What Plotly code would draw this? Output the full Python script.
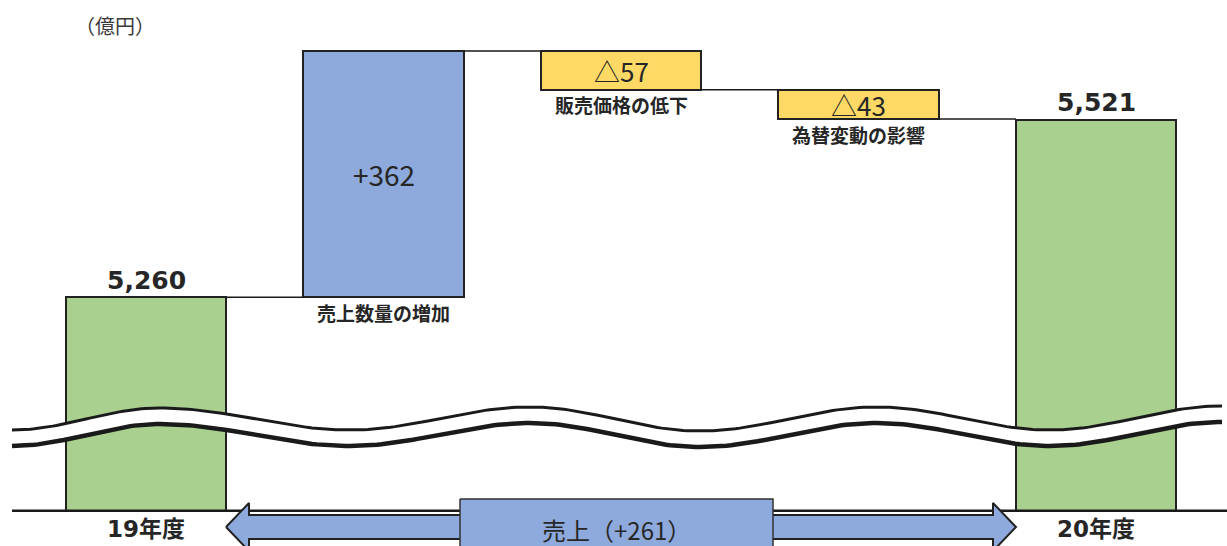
import numpy as np
import plotly.graph_objects as go

# ---------------- data ----------------
categories = ["19年度", "売上数量の増加", "販売価格の低下", "為替変動の影響", "20年度"]
measures = ["absolute", "relative", "relative", "relative", "total"]
values = [5260, 362, -57, -43, 5521]
value_labels = ["5,260", "+362", "△57", "△43", "5,521"]
unit_label = "（億円）"
change_label = "売上（+261）"

# ---------------- styling / layout constants ----------------
W, H = 1227, 546
GREEN, BLUE, YELLOW = "#A9D08E", "#8EA9DB", "#FFD966"
EDGE = "#222222"
TXT = "#262626"
X0_PX, DX_PX = 146, 237.5          # pixel centre of first bar, spacing
BAR_W = 0.675                      # in category units
K = 0.68                           # px per 億円 (broken axis)
TOP_PX = 51                        # pixel row of the highest level
BASE_PX = 510.7                    # pixel row of the baseline

# ---------------- derived bar geometry ----------------
running = 0
bar_low, bar_high, levels = [], [], []
for m, v in zip(measures, values):
    if m == "absolute":
        running = v
        bar_low.append(None); bar_high.append(v)
    elif m == "relative":
        b = running
        running += v
        bar_low.append(min(b, running)); bar_high.append(max(b, running))
    else:
        bar_low.append(None); bar_high.append(v)
    levels.append(running if m != "total" else v)

ymax_level = max(bar_high)
y_top = ymax_level + TOP_PX / K
y_bot = y_top - H / K
y_base = y_top - BASE_PX / K
bar_low = [y_base if b is None else b for b in bar_low]

xs = list(range(len(categories)))
colors = []
for m, v in zip(measures, values):
    if m in ("absolute", "total"):
        colors.append(GREEN)
    elif v >= 0:
        colors.append(BLUE)
    else:
        colors.append(YELLOW)

fig = go.Figure()
fig.add_trace(go.Bar(
    x=xs, y=[h - l for h, l in zip(bar_high, bar_low)], base=bar_low,
    width=BAR_W, marker=dict(color=colors, line=dict(color=EDGE, width=2)),
    hoverinfo="skip", showlegend=False))

# connectors
cx, cy = [], []
for i in range(len(xs) - 1):
    cx += [xs[i] + BAR_W / 2, xs[i + 1] - BAR_W / 2, None]
    cy += [levels[i], levels[i], None]
fig.add_trace(go.Scatter(x=cx, y=cy, mode="lines",
                         line=dict(color="#1a1a1a", width=1.5),
                         hoverinfo="skip", showlegend=False))

# ---------------- decorations in pixel space (overlay axes) ----------------
def half_cos(points, n=40):
    px, py = [], []
    for (xa, ya), (xb, yb) in zip(points[:-1], points[1:]):
        t = np.linspace(0, 1, n, endpoint=False)
        px += list(xa + (xb - xa) * t)
        py += list(ya + (yb - ya) * (1 - np.cos(np.pi * t)) / 2)
    px.append(points[-1][0]); py.append(points[-1][1])
    return np.array(px), np.array(py)

wave_ctrl = [(12, 430), (160, 408), (350, 430), (530, 407), (700, 431),
             (877, 407), (1050, 430), (1222, 406)]
wx, wy = half_cos(wave_ctrl)
GAP = 16
fig.add_trace(go.Scatter(
    x=list(wx) + list(wx[::-1]), y=list(wy - 1) + list((wy + GAP + 1)[::-1]),
    xaxis="x2", yaxis="y2", mode="lines", fill="toself", fillcolor="white",
    line=dict(width=0, color="white"), hoverinfo="skip", showlegend=False))
fig.add_trace(go.Scatter(x=wx, y=wy, xaxis="x2", yaxis="y2", mode="lines",
                         line=dict(color="#1a1a1a", width=3),
                         hoverinfo="skip", showlegend=False))
fig.add_trace(go.Scatter(x=wx, y=wy + GAP, xaxis="x2", yaxis="y2", mode="lines",
                         line=dict(color="#1a1a1a", width=4.5),
                         hoverinfo="skip", showlegend=False))

# baseline
fig.add_trace(go.Scatter(x=[12, W], y=[BASE_PX, BASE_PX], xaxis="x2", yaxis="y2",
                         mode="lines", line=dict(color="#1a1a1a", width=2.5),
                         hoverinfo="skip", showlegend=False))

# double arrow
ax = [226, 249, 249, 993, 993, 1016, 993, 993, 249, 249, 226]
ay = [527, 503, 515, 515, 503, 527, 551, 539, 539, 551, 527]
fig.add_trace(go.Scatter(x=ax, y=ay, xaxis="x2", yaxis="y2", mode="lines",
                         fill="toself", fillcolor=BLUE,
                         line=dict(color=EDGE, width=2),
                         hoverinfo="skip", showlegend=False))
# box
bx = [460, 773, 773, 460, 460]
by = [499, 499, 570, 570, 499]
fig.add_trace(go.Scatter(x=bx, y=by, xaxis="x2", yaxis="y2", mode="lines",
                         fill="toself", fillcolor=BLUE,
                         line=dict(color="#333333", width=1.5),
                         hoverinfo="skip", showlegend=False))

# ---------------- texts ----------------
BOLD_NUM = "DejaVu Sans, Noto Sans CJK JP"
CJK = "Noto Sans CJK JP"
ann = []
for i, (m, v, lab, cat) in enumerate(zip(measures, values, value_labels, categories)):
    if m in ("absolute", "total"):
        ann.append(dict(x=xs[i], y=bar_high[i], xref="x", yref="y", yshift=17,
                        text=f"<b>{lab}</b>", showarrow=False, yanchor="middle",
                        font=dict(family=BOLD_NUM, size=25, color=TXT)))
        ann.append(dict(x=xs[i], y=y_base, xref="x", yref="y", yshift=-18,
                        text=f"<b>{cat}</b>", showarrow=False, yanchor="middle",
                        font=dict(family=BOLD_NUM, size=23, color=TXT)))
    else:
        ann.append(dict(x=xs[i], y=(bar_low[i] + bar_high[i]) / 2, xref="x", yref="y",
                        text=lab, showarrow=False, yanchor="middle",
                        font=dict(family=CJK, size=28 if v > 0 else 26, color=TXT)))
        ann.append(dict(x=xs[i], y=bar_low[i], xref="x", yref="y", yshift=-15,
                        text=f"<b>{cat}</b>", showarrow=False, yanchor="middle",
                        font=dict(family=CJK, size=19, color=TXT)))

ann.append(dict(x=115 / W, y=1 - 25.5 / H, xref="paper", yref="paper",
                text=unit_label, showarrow=False, xanchor="center", yanchor="middle",
                font=dict(family=CJK, size=20, color="#3a3a3a")))
ann.append(dict(x=616.5 / W, y=1 - 529 / H, xref="paper", yref="paper",
                text=change_label, showarrow=False, xanchor="center", yanchor="middle",
                font=dict(family=CJK, size=24, color=TXT)))

fig.update_layout(
    width=W, height=H, autosize=False,
    margin=dict(l=0, r=0, t=0, b=0, pad=0),
    paper_bgcolor="white", plot_bgcolor="white",
    bargap=0, showlegend=False,
    xaxis=dict(range=[-X0_PX / DX_PX, (W - X0_PX) / DX_PX], visible=False, fixedrange=True),
    yaxis=dict(range=[y_bot, y_top], visible=False, fixedrange=True),
    xaxis2=dict(range=[0, W], overlaying="x", anchor="y2", visible=False, fixedrange=True),
    yaxis2=dict(range=[H, 0], overlaying="y", anchor="x2", visible=False, fixedrange=True),
    annotations=ann,
)

fig.write_html("out.html", config={"displayModeBar": False},
               post_script="document.body.style.margin='0';document.body.style.overflow='hidden';")
